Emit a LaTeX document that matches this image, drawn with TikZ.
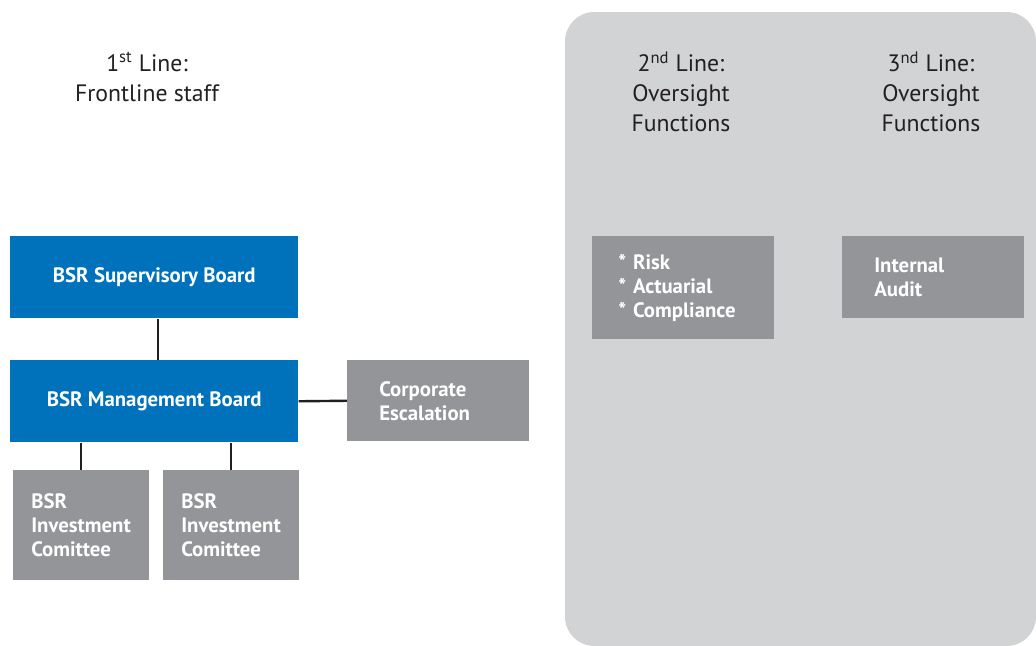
\documentclass[tikz,border=0pt]{standalone}
\usepackage{fontspec}
\setmainfont{PT Sans}
\hyphenpenalty=10000
\hbadness=10000
\hfuzz=100pt
\definecolor{bsrblue}{RGB}{0,114,188}
\definecolor{boxgray}{RGB}{147,149,152}
\definecolor{panelgray}{RGB}{209,211,212}
\definecolor{linedark}{RGB}{35,31,32}
\begin{document}
\begin{tikzpicture}[x=0.75pt,y=-0.75pt,
        board/.style={fill=bsrblue,text=white,font=\bfseries\fontsize{15.6}{18}\selectfont,
            anchor=north west,minimum width=216pt,minimum height=61.5pt,inner sep=0pt},
        unit/.style={fill=boxgray,text=white,font=\bfseries\fontsize{15.6}{18}\selectfont,
            anchor=north west,align=left,inner ysep=0pt},
        heading/.style={font=\fontsize{17.8}{22.5}\selectfont,align=center,text=linedark},
        link/.style={draw=linedark,line width=1.8pt}]
    \useasboundingbox (0,0) rectangle (1036,646);

    % Hintergrund
    \fill[panelgray,rounded corners=22pt] (565,12) rectangle (1036,646);

    % Ueberschriften
    \node[heading] (line1) at (147,77) {1\textsuperscript{st} Line:\\Frontline staff};
    \node[heading] (line2) at (681,92) {2\textsuperscript{nd} Line:\\Oversight\\Functions};
    \node[heading] (line3) at (931,92) {3\textsuperscript{nd} Line:\\Oversight\\Functions};

    % Boards
    \node[board] (sup) at (10,236) {BSR Supervisory Board};
    \node[board] (mgmt) at (10,360) {BSR Management Board};

    % Einheiten
    \node[unit,minimum height=60.75pt,inner xsep=24pt,text width=88.5pt] (corp) at (347,360) {Corporate\\Escalation};
    \node[unit,minimum height=82.5pt,inner xsep=13.5pt,text width=75pt] (ic1) at (13,470) {BSR\\Investment\\Comittee};
    \node[unit,minimum height=82.5pt,inner xsep=13.5pt,text width=75pt] (ic2) at (163,470) {BSR\\Investment\\Comittee};
    \node[unit,minimum height=77.25pt,inner xsep=19.5pt,text width=97.5pt] (risk) at (592,236) {* Risk\\{}* Actuarial\\{}* Compliance};
    \node[unit,minimum height=61.5pt,inner xsep=24pt,text width=88.5pt] (audit) at (842,236) {Internal\\Audit};

    % Linien
    \draw[link] ([xshift=3pt]sup.south) -- ([xshift=3pt]mgmt.north);
    \draw[link] (mgmt.east) -- (corp.west);
    \draw[link] (ic1.north |- mgmt.south) -- (ic1.north);
    \draw[link] (ic2.north |- mgmt.south) -- (ic2.north);
\end{tikzpicture}
\end{document}
